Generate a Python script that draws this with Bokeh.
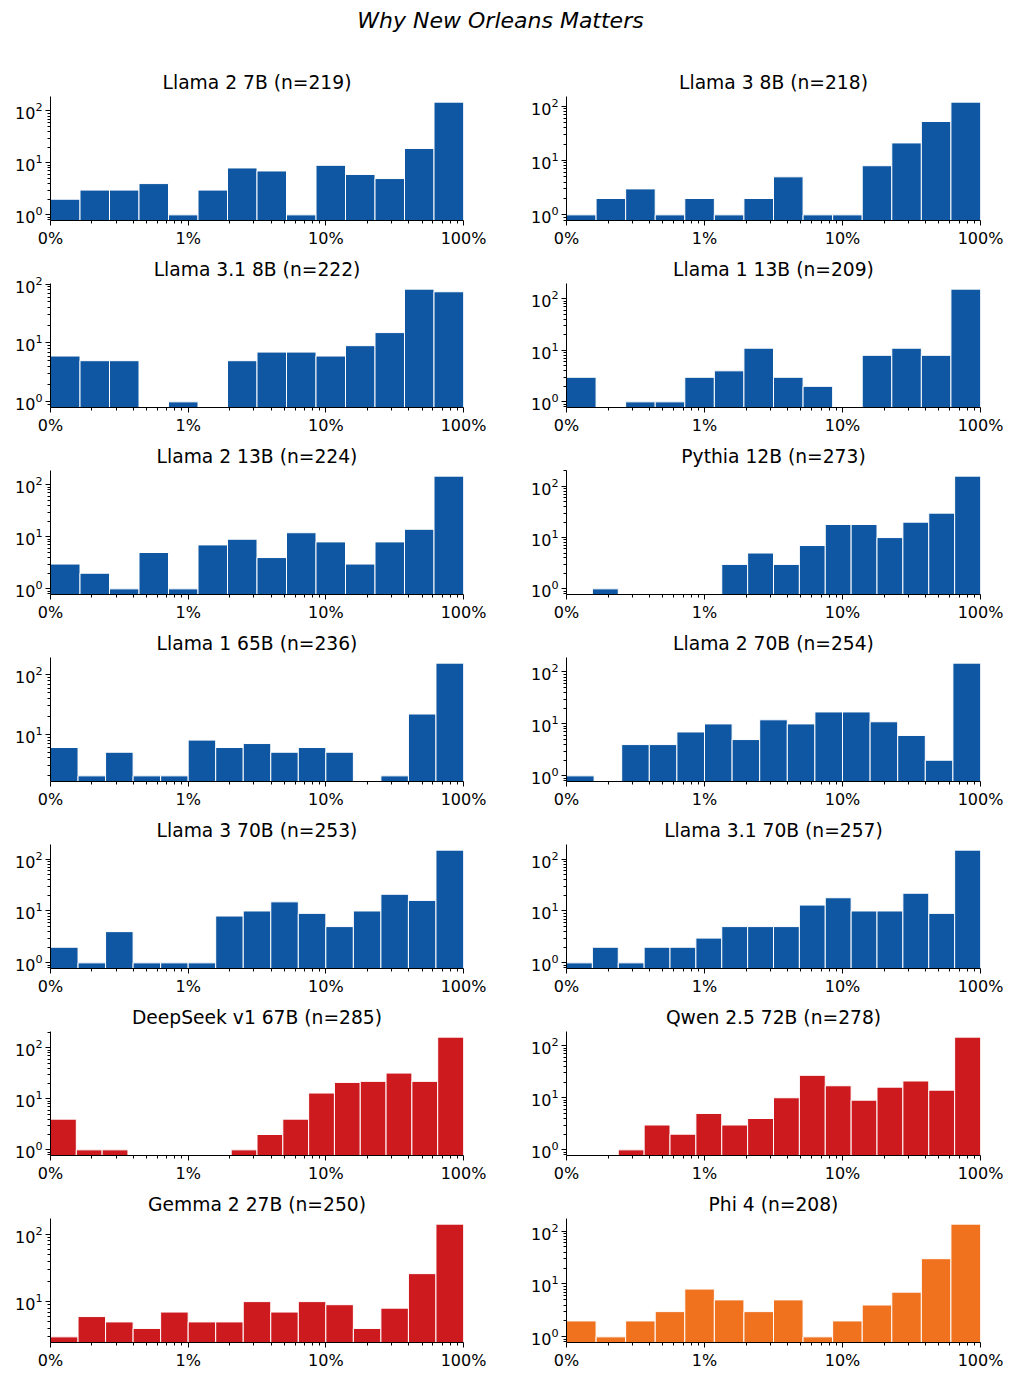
import numpy as np
from bokeh.plotting import figure
from bokeh.layouts import column, row
from bokeh.models import (Range1d, FixedTicker, LogTickFormatter,
                          CustomJSTickFormatter, ColumnDataSource)
from bokeh.embed import file_html
from bokeh.resources import INLINE
from bokeh.core.properties import value

main_title = "Why New Orleans Matters"

titles = [
    "Llama 2 7B (n=219)", "Llama 3 8B (n=218)",
    "Llama 3.1 8B (n=222)", "Llama 1 13B (n=209)",
    "Llama 2 13B (n=224)", "Pythia 12B (n=273)",
    "Llama 1 65B (n=236)", "Llama 2 70B (n=254)",
    "Llama 3 70B (n=253)", "Llama 3.1 70B (n=257)",
    "DeepSeek v1 67B (n=285)", "Qwen 2.5 72B (n=278)",
    "Gemma 2 27B (n=250)", "Phi 4 (n=208)",
]

# histogram counts per log-spaced bin (0.1% .. 100%)
llama2_7b = [2, 3, 3, 4, 1, 3, 8, 7, 1, 9, 6, 5, 19, 148]
llama3_8b = [1, 2, 3, 1, 2, 1, 2, 5, 1, 1, 8, 21, 52, 118]
llama31_8b = [6, 5, 5, 0, 1, 0, 5, 7, 7, 6, 9, 15, 82, 74]
llama1_13b = [3, 0, 1, 1, 3, 4, 11, 3, 2, 0, 8, 11, 8, 154]
llama2_13b = [3, 2, 1, 5, 1, 7, 9, 4, 12, 8, 3, 8, 14, 147]
pythia_12b = [0, 1, 0, 0, 0, 0, 3, 5, 3, 7, 18, 18, 10, 20, 30, 158]
llama1_65b = [6, 2, 5, 2, 2, 8, 6, 7, 5, 6, 5, 0, 2, 22, 158]
llama2_70b = [1, 0, 4, 4, 7, 10, 5, 12, 10, 17, 17, 11, 6, 2, 148]
llama3_70b = [2, 1, 4, 1, 1, 1, 8, 10, 15, 9, 5, 10, 21, 16, 149]
llama31_70b = [1, 2, 1, 2, 2, 3, 5, 5, 5, 13, 18, 10, 10, 22, 9, 149]
deepseek_67b = [4, 1, 1, 0, 0, 0, 0, 1, 2, 4, 13, 21, 22, 32, 22, 162]
qwen25_72b = [0, 0, 1, 3, 2, 5, 3, 4, 10, 27, 17, 9, 16, 21, 14, 146]
gemma2_27b = [3, 6, 5, 4, 7, 5, 5, 10, 7, 10, 9, 4, 8, 26, 141]
phi4 = [2, 1, 2, 3, 8, 5, 3, 5, 1, 2, 4, 7, 30, 135]

series = [llama2_7b, llama3_8b, llama31_8b, llama1_13b, llama2_13b,
          pythia_12b, llama1_65b, llama2_70b, llama3_70b, llama31_70b,
          deepseek_67b, qwen25_72b, gemma2_27b, phi4]

BLUE = "#0f57a2"
RED = "#cc1a1f"
ORANGE = "#f0711e"
colors = [BLUE] * 10 + [RED, RED, RED, ORANGE]

x_major = [1e-3, 1e-2, 1e-1, 1.0]
x_minor = [k * 10.0 ** e for e in (-3, -2, -1) for k in range(2, 10)]
y_major = [1.0, 10.0, 100.0, 1000.0]
y_minor = [k * 10.0 ** e for e in (-1, 0, 1, 2) for k in range(2, 10)]

FONT = "DejaVu Sans"


def make_panel(title, counts, color, left_col):
    n_bins = len(counts)
    edges = np.logspace(-3, 0, n_bins + 1)
    cnt = np.array(counts, dtype=float)
    pos = cnt[cnt > 0]
    lo, hi = np.log10(pos.min()), np.log10(pos.max())
    m = 0.05 * (hi - lo)
    y0, y1 = 10 ** (lo - m), 10 ** (hi + m)
    if left_col:
        bl, fw, br = 50, 413, 43
    else:
        bl, fw, br = 60, 414, 33
    p = figure(x_axis_type="log", y_axis_type="log",
               x_range=Range1d(1e-3, 1.0), y_range=Range1d(y0, y1),
               frame_width=fw, frame_height=124,
               min_border_left=bl, min_border_right=br,
               min_border_top=33, min_border_bottom=20,
               toolbar_location=None, output_backend="svg")
    keep = cnt > 0
    src = ColumnDataSource(dict(
        left=edges[:-1][keep], right=edges[1:][keep], top=cnt[keep],
        bottom=np.full(keep.sum(), y0 / 10.0)))
    p.quad(left="left", right="right", top="top", bottom="bottom",
           source=src, fill_color=color, line_color="white", line_width=1)

    p.title.text = title
    p.title.align = "center"
    p.title.text_font = FONT
    p.title.text_font_size = "18.7px"
    p.title.text_font_style = "normal"
    p.title.text_color = "black"
    p.title.standoff = 8

    p.xaxis.ticker = FixedTicker(ticks=x_major, minor_ticks=x_minor)
    p.xaxis.formatter = CustomJSTickFormatter(
        code="return (tick*100).toFixed(0) + '%';")
    p.yaxis.ticker = FixedTicker(ticks=y_major, minor_ticks=y_minor)
    p.yaxis.formatter = LogTickFormatter()
    for ax in (p.xaxis, p.yaxis):
        ax.axis_line_width = 1
        ax.axis_line_color = "black"
        ax.major_tick_line_color = "black"
        ax.minor_tick_line_color = "black"
        ax.major_tick_out = 5
        ax.major_tick_in = 0
        ax.minor_tick_out = 3
        ax.minor_tick_in = 0
        ax.major_label_text_font = FONT
        ax.major_label_text_font_size = "16px"
        ax.major_label_text_color = "black"
        ax.major_label_standoff = 3
    p.grid.visible = False
    p.outline_line_color = None
    p.background_fill_color = "white"
    p.border_fill_color = "white"
    return p


header = figure(width=1013, height=63, x_range=Range1d(0, 1013),
                y_range=Range1d(63, 0), min_border=0,
                x_axis_location=None, y_axis_location=None,
                toolbar_location=None, output_backend="svg")
header.grid.visible = False
header.outline_line_color = None
header.text(x=[500], y=[20], text=[main_title], text_align="center",
            text_baseline="middle", text_font=value(FONT),
            text_font_style="italic", text_font_size="22px",
            text_color="black")

panels = [make_panel(t, s, c, i % 2 == 0)
          for i, (t, s, c) in enumerate(zip(titles, series, colors))]
rows = [row(panels[i], panels[i + 1]) for i in range(0, len(panels), 2)]
layout = column(header, *rows)

open("out.html", "w").write(file_html(layout, INLINE))
